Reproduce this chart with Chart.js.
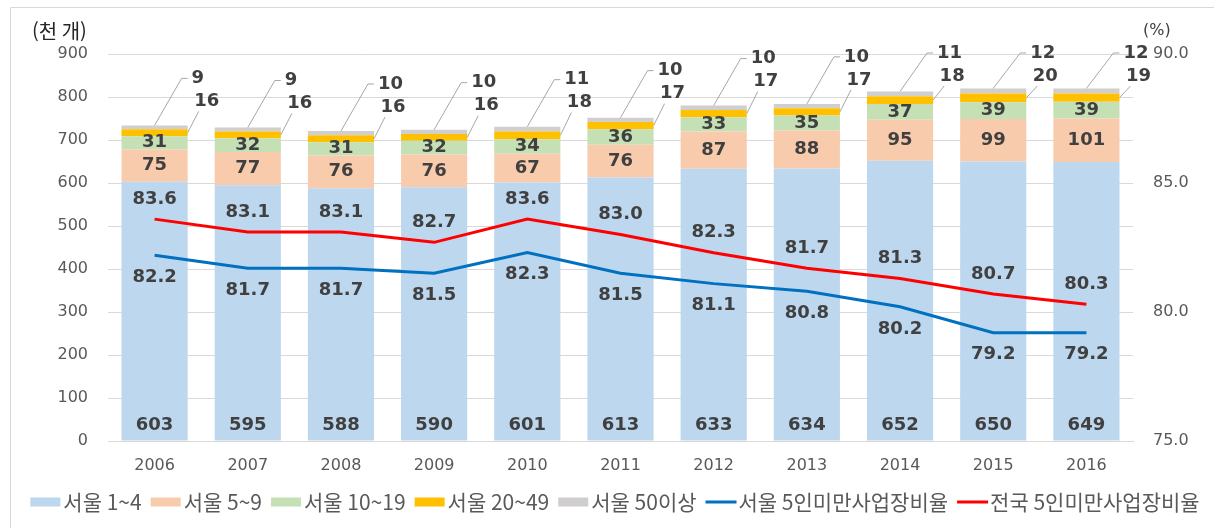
<!DOCTYPE html>
<html lang="ko">
<head>
<meta charset="utf-8">
<script src="https://cdn.jsdelivr.net/npm/chart.js@4.4.1/dist/chart.umd.min.js"></script>
<style>
    html, body { margin: 0; padding: 0; background: #fff; }
    #wrap { width: 1214px; height: 528px; position: relative; }
</style>
</head>
<body>
<div id="wrap"><canvas id="chart" width="1214" height="528"></canvas></div>
<script>
// Data
const years = ['2006', '2007', '2008', '2009', '2010', '2011', '2012', '2013', '2014', '2015', '2016'];
const seoul1to4 = [603, 595, 588, 590, 601, 613, 633, 634, 652, 650, 649];
const seoul5to9 = [75, 77, 76, 76, 67, 76, 87, 88, 95, 99, 101];
const seoul10to19 = [31, 32, 31, 32, 34, 36, 33, 35, 37, 39, 39];
const seoul20to49 = [16, 16, 16, 16, 18, 17, 17, 17, 18, 20, 19];
const seoul50plus = [9, 9, 10, 10, 11, 10, 10, 10, 11, 12, 12];
const seoulRatio = [82.2, 81.7, 81.7, 81.5, 82.3, 81.5, 81.1, 80.8, 80.2, 79.2, 79.2];
const nationRatio = [83.6, 83.1, 83.1, 82.7, 83.6, 83.0, 82.3, 81.7, 81.3, 80.7, 80.3];

const leftAxis = { min: 0, max: 900, step: 100 };
const rightAxis = { min: 75, max: 90, step: 5 };

const NUM_FONT = '"DejaVu Sans", Verdana, sans-serif';
const KR_FONT = '"Noto Sans CJK KR", "Noto Sans", sans-serif';
const LABEL_COLOR = '#404040';
const TICK_COLOR = '#595959';
const GRID_COLOR = '#D9D9D9';

function barSet(label, data, color) {
    return {
        type: 'bar',
        label: label,
        data: data,
        backgroundColor: color,
        borderWidth: 0,
        barPercentage: 0.71,
        categoryPercentage: 1.0,
        yAxisID: 'y',
        order: 2
    };
}

function lineSet(label, data, color) {
    return {
        type: 'line',
        label: label,
        data: data,
        borderColor: color,
        backgroundColor: color,
        borderWidth: 3,
        pointRadius: 0,
        tension: 0,
        yAxisID: 'y1',
        order: 1
    };
}

// Frame, axis titles, data labels and legend
const decorations = {
    id: 'decorations',
    beforeDraw(chart) {
        const ctx = chart.ctx;
        ctx.save();
        ctx.strokeStyle = GRID_COLOR;
        ctx.lineWidth = 1;
        ctx.beginPath();
        ctx.moveTo(10.5, 528);
        ctx.lineTo(10.5, 7.5);
        ctx.lineTo(1214, 7.5);
        ctx.stroke();
        ctx.restore();
    },
    afterDatasetsDraw(chart) {
        const ctx = chart.ctx;
        ctx.save();
        ctx.fillStyle = LABEL_COLOR;
        ctx.font = 'bold 18px ' + NUM_FONT;
        ctx.textBaseline = 'middle';
        ctx.textAlign = 'center';

        const m1 = chart.getDatasetMeta(0).data;
        const m2 = chart.getDatasetMeta(1).data;
        const m3 = chart.getDatasetMeta(2).data;
        const m4 = chart.getDatasetMeta(3).data;
        const m5 = chart.getDatasetMeta(4).data;

        years.forEach((y, i) => {
            const b1 = m1[i], b2 = m2[i], b3 = m3[i], b4 = m4[i], b5 = m5[i];
            ctx.fillText(seoul1to4[i], b1.x, b1.base - 15);
            ctx.fillText(seoul5to9[i], b2.x, (b2.y + b2.base) / 2);
            ctx.fillText(seoul10to19[i], b3.x, (b3.y + b3.base) / 2);

            // outside labels with leader lines
            const top = b5.y;
            const right = b4.x + b4.width / 2;
            const y50 = Math.max(top - 47, 53);
            const y20 = y50 + 23;
            ctx.strokeStyle = '#A6A6A6';
            ctx.lineWidth = 1;
            ctx.beginPath();
            ctx.moveTo(b5.x, top);
            ctx.lineTo(b5.x + 27, y50);
            ctx.lineTo(b5.x + 33, y50);
            ctx.stroke();
            ctx.beginPath();
            ctx.moveTo(right, (b4.y + b4.base) / 2);
            ctx.lineTo(right + 11, y20 + 10);
            ctx.stroke();
            ctx.textAlign = 'left';
            ctx.fillText(seoul50plus[i], b5.x + 37, y50);
            ctx.textAlign = 'center';
            ctx.fillText(seoul20to49[i], right + 19, y20);
        });

        const ls = chart.getDatasetMeta(5).data;
        const ln = chart.getDatasetMeta(6).data;
        years.forEach((y, i) => {
            ctx.fillText(nationRatio[i].toFixed(1), ln[i].x, ln[i].y - 20);
            ctx.fillText(seoulRatio[i].toFixed(1), ls[i].x, ls[i].y + 22);
        });
        ctx.restore();
    },
    afterDraw(chart) {
        const ctx = chart.ctx;
        ctx.save();
        ctx.textBaseline = 'middle';
        ctx.textAlign = 'left';
        ctx.fillStyle = '#262626';
        ctx.font = '20px ' + KR_FONT;
        ctx.fillText('(천 개)', 32, 31);
        ctx.fillStyle = LABEL_COLOR;
        ctx.font = '16px ' + NUM_FONT;
        ctx.fillText('(%)', 1143, 31);

        // legend
        ctx.font = '21px ' + KR_FONT;
        const items = chart.data.datasets.map(ds => ({
            text: ds.label,
            color: ds.type === 'line' ? ds.borderColor : ds.backgroundColor,
            line: ds.type === 'line'
        }));
        const mark = 30, gapIn = 3, gapOut = 9;
        let total = 0;
        items.forEach((it, k) => {
            it.w = ctx.measureText(it.text).width;
            total += mark + gapIn + it.w + (k < items.length - 1 ? gapOut : 0);
        });
        let x = 615 - total / 2;
        const cy = 502;
        items.forEach(it => {
            ctx.fillStyle = it.color;
            if (it.line) {
                ctx.fillRect(x, cy - 1.5, mark + 1, 3);
            } else {
                ctx.fillRect(x, cy - 4.5, mark, 9);
            }
            x += mark + gapIn;
            ctx.fillStyle = TICK_COLOR;
            ctx.fillText(it.text, x, cy);
            x += it.w + gapOut;
        });
        ctx.restore();
    }
};

new Chart(document.getElementById('chart').getContext('2d'), {
    data: {
        labels: years,
        datasets: [
            barSet('서울 1~4', seoul1to4, '#BDD7EE'),
            barSet('서울 5~9', seoul5to9, '#F8CBAD'),
            barSet('서울 10~19', seoul10to19, '#C5E0B4'),
            barSet('서울 20~49', seoul20to49, '#FFC000'),
            barSet('서울 50이상', seoul50plus, '#D0CECE'),
            lineSet('서울 5인미만사업장비율', seoulRatio, '#0070C0'),
            lineSet('전국 5인미만사업장비율', nationRatio, '#FF0000')
        ]
    },
    options: {
        responsive: false,
        animation: false,
        layout: { padding: { top: 54, left: 0, right: 0, bottom: 0 } },
        plugins: {
            legend: { display: false },
            tooltip: { enabled: false }
        },
        scales: {
            x: {
                stacked: true,
                grid: { display: false, drawTicks: false },
                border: { display: true, color: GRID_COLOR },
                ticks: {
                    color: TICK_COLOR,
                    font: { family: NUM_FONT, size: 16 },
                    padding: 15
                },
                afterFit(scale) { scale.height = 87; }
            },
            y: {
                stacked: true,
                position: 'left',
                min: leftAxis.min,
                max: leftAxis.max,
                grid: { color: GRID_COLOR, drawTicks: false },
                border: { display: false },
                ticks: {
                    stepSize: leftAxis.step,
                    color: TICK_COLOR,
                    font: { family: NUM_FONT, size: 16 },
                    padding: 20
                },
                afterFit(scale) { scale.width = 108; }
            },
            y1: {
                position: 'right',
                min: rightAxis.min,
                max: rightAxis.max,
                grid: { display: false, drawTicks: false },
                border: { display: false },
                ticks: {
                    stepSize: rightAxis.step,
                    color: TICK_COLOR,
                    font: { family: NUM_FONT, size: 16 },
                    padding: 20,
                    callback: v => Number(v).toFixed(1)
                },
                afterFit(scale) { scale.width = 81; }
            }
        }
    },
    plugins: [decorations]
});
</script>
</body>
</html>
